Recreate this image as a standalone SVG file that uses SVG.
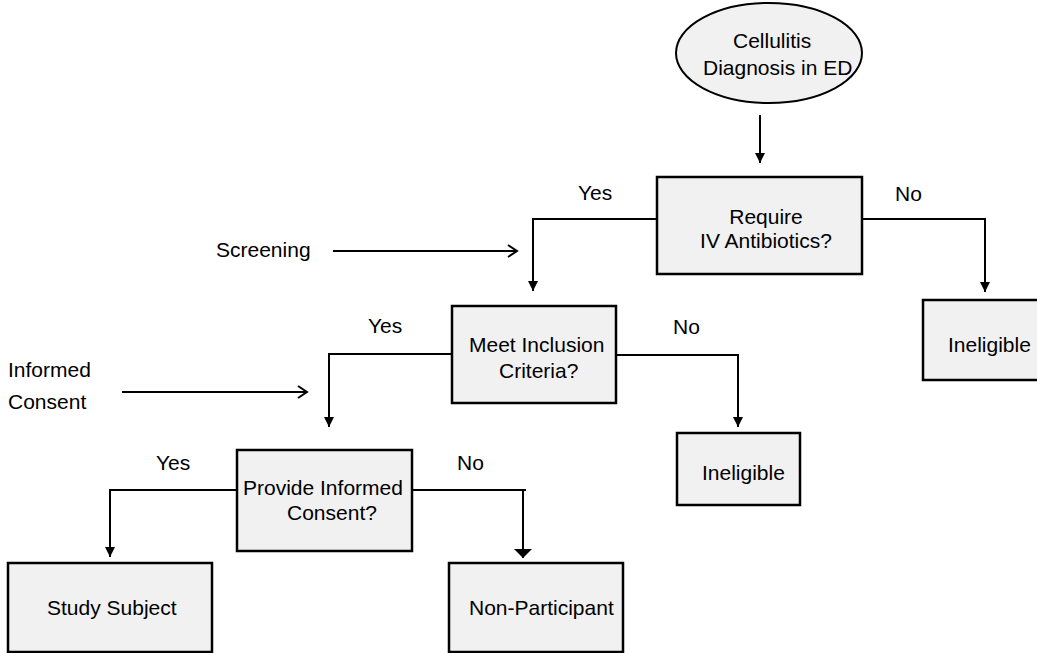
<svg xmlns="http://www.w3.org/2000/svg" width="1037" height="653" viewBox="0 0 1037 653">
<style>
.box{fill:#f1f1f1;stroke:#000;stroke-width:2.5}
.t{font-family:"Liberation Sans",Arial,sans-serif;font-size:21px;fill:#000}
.c{fill:none;stroke:#000;stroke-width:2}
</style>
<defs>
<marker id="ah" markerUnits="userSpaceOnUse" markerWidth="12" markerHeight="10" refX="10" refY="5" orient="auto" viewBox="0 0 10 10">
<path d="M0,0 L10,5 L0,10 Z" fill="#000"/>
</marker>
<marker id="ahw" markerUnits="userSpaceOnUse" markerWidth="10" markerHeight="18" refX="9" refY="9" orient="auto" viewBox="0 0 9 18">
<path d="M0,0 L9,9 L0,18 Z" fill="#000"/>
</marker>
<marker id="open" markerUnits="userSpaceOnUse" markerWidth="12" markerHeight="14" refX="10" refY="7" orient="auto" viewBox="0 0 12 14">
<path d="M1,1 L10,7 L1,13" fill="none" stroke="#000" stroke-width="2"/>
</marker>
</defs>
<rect width="1037" height="653" fill="#fff"/>
<g id="connectors">
<path class="c" d="M760 115 V163" marker-end="url(#ah)"/>
<path class="c" d="M657 219 H533 V291" marker-end="url(#ah)"/>
<path class="c" d="M862 219 H985 V292" marker-end="url(#ah)"/>
<path class="c" d="M452 354 H329 V427" marker-end="url(#ah)"/>
<path class="c" d="M616 355 H738 V427" marker-end="url(#ah)"/>
<path class="c" d="M237 490 H110 V557" marker-end="url(#ah)"/>
<path class="c" d="M412 490 H526"/>
<path class="c" d="M523 490 V558" marker-end="url(#ahw)"/>
<path class="c" d="M333 251 H517" marker-end="url(#open)"/>
<path class="c" d="M122 392 H307" marker-end="url(#open)"/>
<text class="t" x="578" y="200">Yes</text>
<text class="t" x="895" y="201">No</text>
<text class="t" x="368" y="333">Yes</text>
<text class="t" x="673" y="334">No</text>
<text class="t" x="156" y="470">Yes</text>
<text class="t" x="457" y="470">No</text>
</g>
<g id="labels">
<text class="t" x="216" y="257">Screening</text>
<text class="t" x="8" y="377">Informed</text>
<text class="t" x="8" y="409">Consent</text>
</g>
<g id="start">
<ellipse class="box" cx="769" cy="53" rx="93" ry="50" style="stroke-width:2"/>
<text class="t" x="733" y="48">Cellulitis</text>
<text class="t" x="703" y="75">Diagnosis in ED</text>
</g>
<g id="require">
<rect class="box" x="657" y="177" width="205" height="97"/>
<text class="t" x="766" y="224" text-anchor="middle">Require</text>
<text class="t" x="766" y="248" text-anchor="middle">IV Antibiotics?</text>
</g>
<g id="ineligible1">
<rect class="box" x="923" y="300" width="120" height="80"/>
<text class="t" x="948" y="352">Ineligible</text>
</g>
<g id="inclusion">
<rect class="box" x="452" y="306" width="164" height="97"/>
<text class="t" x="469" y="352">Meet Inclusion</text>
<text class="t" x="499" y="378">Criteria?</text>
</g>
<g id="ineligible2">
<rect class="box" x="677" y="433" width="123" height="72"/>
<text class="t" x="702" y="480">Ineligible</text>
</g>
<g id="consent">
<rect class="box" x="237" y="450" width="175" height="101"/>
<text class="t" x="243" y="495">Provide Informed</text>
<text class="t" x="287" y="520">Consent?</text>
</g>
<g id="subject">
<rect class="box" x="8" y="563" width="204" height="89"/>
<text class="t" x="47" y="615">Study Subject</text>
</g>
<g id="nonparticipant">
<rect class="box" x="449" y="563" width="174" height="89"/>
<text class="t" x="469" y="615">Non-Participant</text>
</g>
</svg>
